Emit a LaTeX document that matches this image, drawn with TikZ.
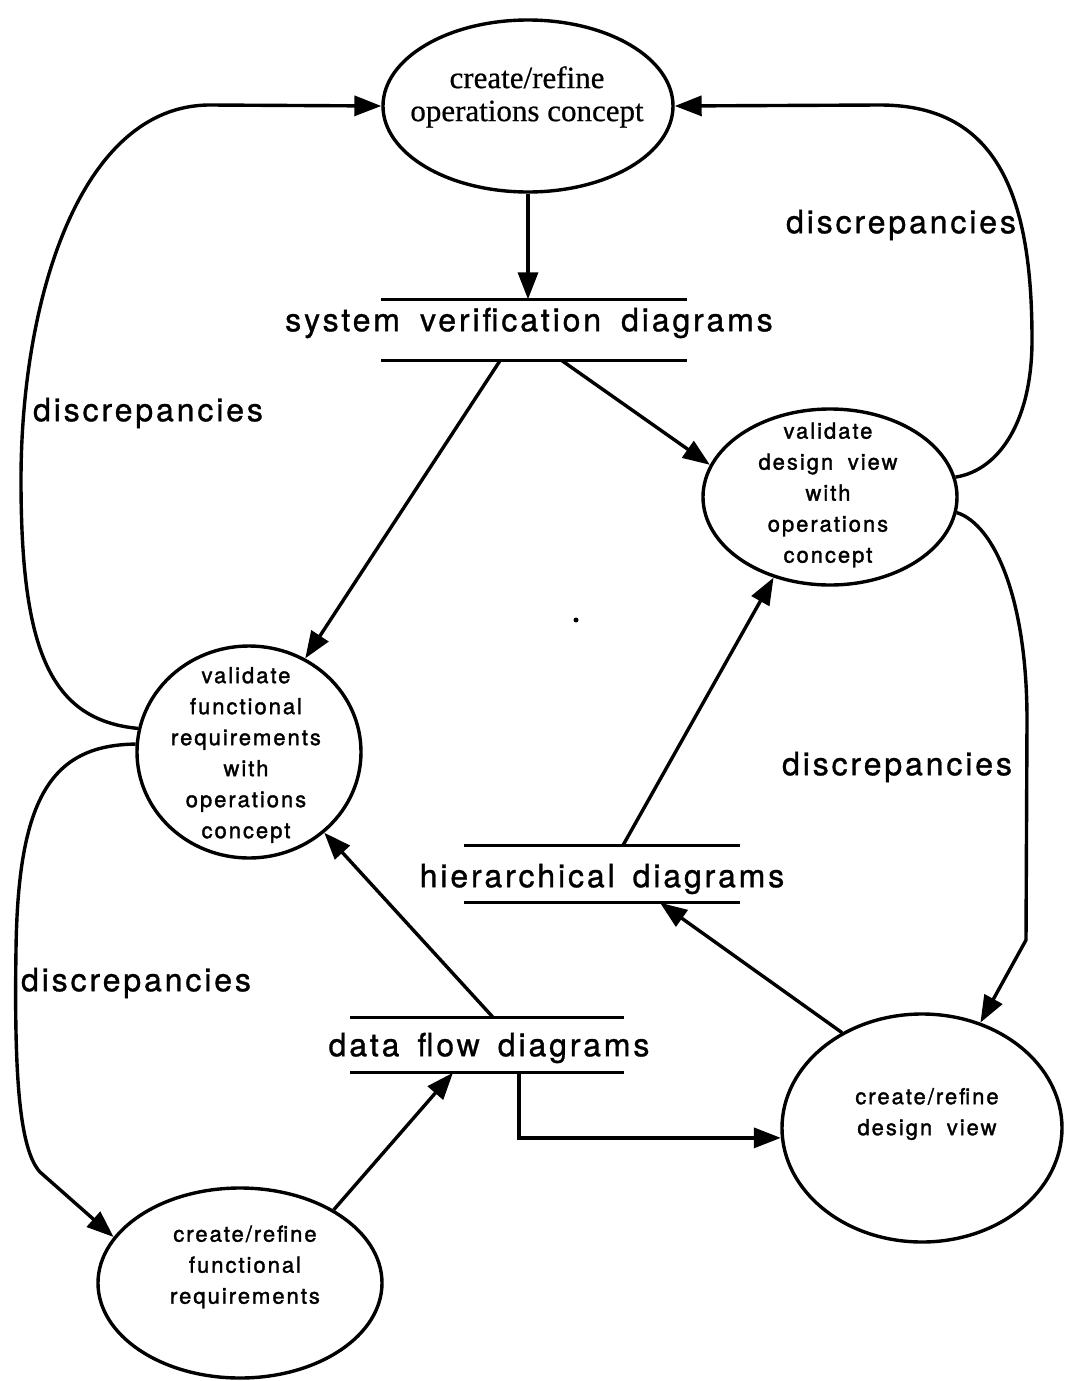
\documentclass[tikz,border=0pt]{standalone}
\usepackage{fontspec}
\usetikzlibrary{shapes.geometric,arrows.meta}
\newfontfamily\storefont[LetterSpace=9,FakeBold=1]{TeX Gyre Heros}
\newfontfamily\bubblefont[LetterSpace=9,WordSpace=1.8,FakeBold=1.5]{TeX Gyre Heros}
\newfontfamily\opsfont[FakeBold=0.6]{Liberation Serif}

\begin{document}
\begin{tikzpicture}[x=1pt,y=-1pt,
  line width=3.4pt,
  bubble/.style={draw, ellipse, inner sep=0pt},
  btext/.style={font={\bubblefont\fontsize{22}{31}\selectfont}, align=center, inner sep=0pt},
  store/.style={inner sep=0pt},
  storetext/.style={font={\storefont\fontsize{32}{36}\selectfont}, inner sep=0pt},
  note/.style={font={\storefont\fontsize{32}{36}\selectfont}, inner sep=0pt},
  flow/.style={-{Triangle[length=27pt,width=20pt]}},
  ]
\fill[white] (0,0) rectangle (1069,1381);
\useasboundingbox (0,0) rectangle (1069,1381);

% processes
\node[bubble, minimum width=290pt, minimum height=172pt] (A) at (528,106) {};
\node[font={\opsfont\fontsize{31}{33}\selectfont}, align=center, inner sep=0pt] (Atxt) at (527,97) {create/refine\\operations concept};

\node[bubble, minimum width=254pt, minimum height=176pt] (B) at (830,497) {};
\node[btext] (Btxt) at (828,495) {validate\\design view\\with\\operations\\concept};

\node[bubble, minimum width=224pt, minimum height=212pt] (C) at (249,752) {};
\node[btext] (Ctxt) at (246,755) {validate\\functional\\requirements\\with\\operations\\concept};

\node[bubble, minimum width=280pt, minimum height=228pt] (D) at (922,1128) {};
\node[btext] (Dtxt) at (927,1114) {create/refine\\design view};

\node[bubble, minimum width=284pt, minimum height=190pt] (E) at (240,1283) {};
\node[btext] (Etxt) at (245,1267) {create/refine\\functional\\requirements};

% data stores
\node[store, minimum width=302pt, minimum height=58pt] (svd) at (534,330) {};
\node[storetext] (svdtxt) at (529,323) {system\hspace{20pt}verification\hspace{20pt}diagrams};
\node[store, minimum width=272pt, minimum height=54pt] (hier) at (602,874) {};
\node[storetext] (hiertxt) at (602,879) {hierarchical\hspace{18pt}diagrams};
\node[store, minimum width=270pt, minimum height=52pt] (dfd) at (487,1045) {};
\node[storetext] (dfdtxt) at (489,1048) {data\hspace{18pt}flow\hspace{18pt}diagrams};
\foreach \s in {svd,hier,dfd}
  \draw (\s.north west) -- (\s.north east) (\s.south west) -- (\s.south east);

% labels
\node[note] (d1) at (901,225) {discrepancies};
\node[note] (d2) at (148,413) {discrepancies};
\node[note] (d3) at (897,767) {discrepancies};
\node[note] (d4) at (136,983) {discrepancies};

% flows
\draw[flow] (A.south) -- (A.south |- svd.north);
\draw[flow] ([xshift=-34pt]svd.south) -- (C.59);
\draw[flow] ([xshift=28pt]svd.south) -- (B.165);
\draw[flow] ([xshift=21pt]hier.north) -- (B.-125);
\draw[flow] (D.130) -- ([xshift=58pt]hier.south);
\draw[flow] ([xshift=6pt]dfd.north) -- (C.-47);
\draw[flow] (E.38) -- ([xshift=-34pt]dfd.south);
\draw[flow] ([xshift=32pt]dfd.south) |- (D.184);

% discrepancy loops
\draw[flow] (C.168) .. controls (50,720) and (21,650) .. (21,480)
  .. controls (21,300) and (80,105) .. (210,105) -- (A.west);
\draw[flow] (C.176) .. controls (50,745) and (18,800) .. (16,950)
  .. controls (14,1080) and (20,1150) .. (40,1172) -- (E.160);
\draw[flow] (B.9) .. controls (1000,470) and (1032,420) .. (1032,340)
  .. controls (1032,200) and (1000,105) .. (880,105) -- (A.east);
\draw[flow] (B.-7) .. controls (995,525) and (1027,600) .. (1027,720)
  -- (1026,940) -- (D.61);

\fill (576,620) circle (2.5);
\end{tikzpicture}
\end{document}
